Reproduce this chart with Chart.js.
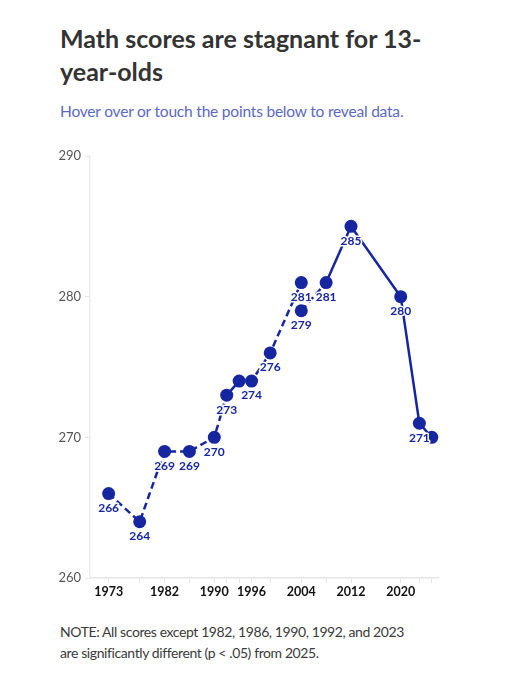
<!DOCTYPE html>
<html>
<head>
<meta charset="utf-8">
<script src="https://cdn.jsdelivr.net/npm/chart.js@4"></script>
<style>
  html, body { margin: 0; padding: 0; background: #fff; }
  body { width: 513px; height: 680px; position: relative; font-family: Lato, "Noto Sans", sans-serif; }
  .title { position: absolute; left: 60px; top: 22px; margin: 0; font-size: 25px; line-height: 33px; font-weight: 700; color: #333; }
  .sub { position: absolute; left: 60px; top: 102px; margin: 0; font-size: 15.5px; letter-spacing: -0.2px; color: #5b68c4; }
  .wrap { position: absolute; left: 0; top: 140px; width: 513px; height: 466px; }
  .note { position: absolute; left: 60px; top: 621px; margin: 0; font-size: 14px; letter-spacing: -0.4px; line-height: 21px; color: #3a3a3a; }
</style>
</head>
<body>
<h1 class="title">Math scores are stagnant for 13-<br>year-olds</h1>
<p class="sub">Hover over or touch the points below to reveal data.</p>
<div class="wrap"><canvas id="ch"></canvas></div>
<p class="note">NOTE: All scores except 1982, 1986, 1990, 1992, and 2023<br>are significantly different (p &lt; .05) from 2025.</p>

<script>
// ── Datos ─────────────────────────────────────────
const YEARS_OLD  = [1973, 1978, 1982, 1986, 1990, 1992, 1994, 1996, 1999, 2004];
const SCORES_OLD = [266, 264, 269, 269, 270, 273, 274, 274, 276, 281];
const YEARS_NEW  = [2004, 2008, 2012, 2020, 2023, 2025];
const SCORES_NEW = [279, 281, 285, 280, 271, 270];
const X_LABELED  = [1973, 1982, 1990, 1996, 2004, 2012, 2020];
const Y_TICKS    = [260, 270, 280, 290];
const NO_LABEL   = [1994, 2025];   // etiquetas ocultas por solapamiento

const BLUE = '#1526a0';
const allYears = [...new Set([...YEARS_OLD, ...YEARS_NEW])];

// etiquetas de valor bajo cada punto
const valueLabels = {
  id: 'valueLabels',
  afterDatasetsDraw(chart) {
    const c = chart.ctx;
    c.save();
    c.font = 'bold 12px Lato, "Noto Sans", sans-serif';
    c.textAlign = 'center';
    c.textBaseline = 'middle';
    c.lineJoin = 'round';
    chart.data.datasets.forEach((ds, i) => {
      chart.getDatasetMeta(i).data.forEach((pt, j) => {
        if (NO_LABEL.includes(ds.data[j].x)) return;
        const txt = String(ds.data[j].y);
        c.strokeStyle = '#fff';
        c.lineWidth = 3;
        c.strokeText(txt, pt.x, pt.y + 14.5);
        c.fillStyle = BLUE;
        c.fillText(txt, pt.x, pt.y + 14.5);
      });
    });
    c.restore();
  }
};

const toPts = (xs, ys) => xs.map((x, i) => ({ x, y: ys[i] }));

new Chart(document.getElementById('ch'), {
  type: 'line',
  data: {
    datasets: [
      {
        data: toPts(YEARS_OLD, SCORES_OLD),
        borderColor: BLUE, backgroundColor: BLUE,
        borderWidth: 2.5, borderDash: [7, 4],
        pointRadius: 6.5, pointBorderWidth: 0, tension: 0, clip: false,
      },
      {
        data: toPts(YEARS_NEW, SCORES_NEW),
        borderColor: BLUE, backgroundColor: BLUE,
        borderWidth: 2.5,
        segment: { borderDash: ctx => ctx.p0.parsed.x === 2004 ? [7, 4] : undefined },
        pointRadius: 6.5, pointBorderWidth: 0, tension: 0, clip: false,
      },
    ],
  },
  options: {
    responsive: true,
    maintainAspectRatio: false,
    animation: false,
    layout: { padding: { top: 16, right: 75, left: 0, bottom: 0 } },
    plugins: { legend: { display: false }, tooltip: { enabled: false } },
    scales: {
      x: {
        type: 'linear', min: 1970, max: 2026,
        afterBuildTicks: s => { s.ticks = allYears.map(v => ({ value: v })); },
        afterFit: s => { s.height = 28; },
        grid: { drawOnChartArea: false, drawTicks: true, tickLength: 5, color: '#e6e6e6' },
        border: { color: '#e6e6e6', width: 1.5 },
        ticks: {
          autoSkip: false, maxRotation: 0, padding: 1, color: '#111',
          font: { family: 'Lato, "Noto Sans", sans-serif', size: 12.5, weight: 'bold' },
          callback: v => X_LABELED.includes(v) ? String(v) : '',
        },
      },
      y: {
        min: 260, max: 290,
        afterBuildTicks: s => { s.ticks = Y_TICKS.map(v => ({ value: v })); },
        afterFit: s => { s.width = 90; },
        grid: { drawOnChartArea: false, drawTicks: true, tickLength: 5, color: '#e6e6e6' },
        border: { color: '#ececec', width: 1.5 },
        ticks: {
          padding: 4, color: '#555',
          font: { family: 'Lato, "Noto Sans", sans-serif', size: 13 },
        },
      },
    },
  },
  plugins: [valueLabels],
});
</script>
</body>
</html>
